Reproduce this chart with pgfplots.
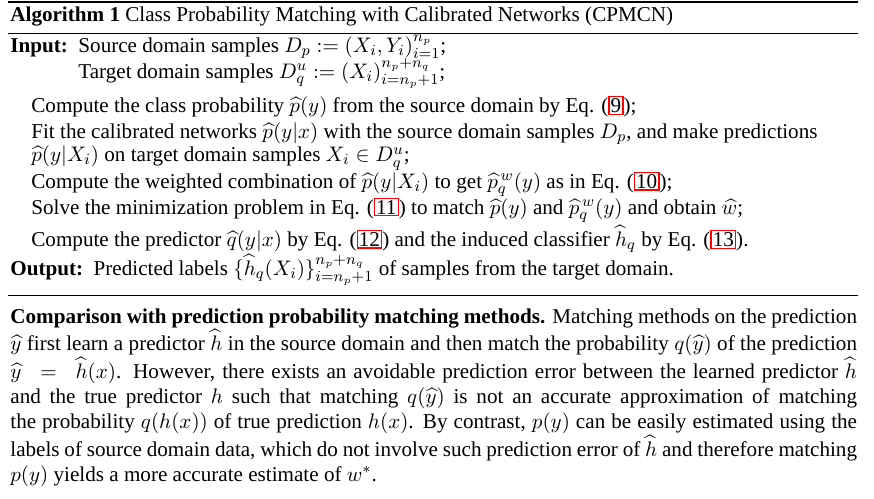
\documentclass[border=0pt]{standalone}
\usepackage{pgfplots}
\pgfplotsset{compat=1.18}
\usepackage{amsmath,amssymb}
\usepackage{fontspec}
\setmainfont{Liberation Serif}
\newcommand{\rb}[1]{{\setlength\fboxsep{0.6pt}\setlength\fboxrule{0.6pt}\fcolorbox{red}{white}{#1}}}
\begin{document}
\begin{tikzpicture}
\begin{axis}[width=16cm,height=9.118cm,scale only axis,hide axis,xmin=0,xmax=874,ymin=0,ymax=498,clip=false]
\addplot[draw=none] coordinates {(0,0) (874,498)};
\draw[line width=0.8pt] (axis cs:8,496) -- (axis cs:858,496);
\draw[line width=0.5pt] (axis cs:8,465) -- (axis cs:858,465);
\draw[line width=0.5pt] (axis cs:8,203) -- (axis cs:858,203);
\node[anchor=west,inner sep=0,font=\fontsize{11}{13}\selectfont] at (axis cs:10,481) {\textbf{Algorithm 1} Class Probability Matching with Calibrated Networks (CPMCN)};
\begin{scope}[every node/.style={anchor=west,inner sep=0,font=\fontsize{11}{13}\selectfont}]
\node at (axis cs:10,451) {\textbf{Input:}\ \ Source domain samples $D_p := (X_i,Y_i)_{i=1}^{n_p}$;};
\node at (axis cs:78,425) {Target domain samples $D_q^u := (X_i)_{i=n_p+1}^{n_p+n_q}$;};
\node at (axis cs:31,391) {Compute the class probability $\widehat{p}(y)$ from the source domain by Eq. (\rb{9});};
\node at (axis cs:31,364) {Fit the calibrated networks $\widehat{p}(y|x)$ with the source domain samples $D_p$, and make predictions};
\node at (axis cs:31,340) {$\widehat{p}(y|X_i)$ on target domain samples $X_i\in D_q^u$;};
\node at (axis cs:31,314) {Compute the weighted combination of $\widehat{p}(y|X_i)$ to get $\widehat{p}_q^{\,w}(y)$ as in Eq. (\rb{10});};
\node at (axis cs:31,288) {Solve the minimization problem in Eq. (\rb{11}) to match $\widehat{p}(y)$ and $\widehat{p}_q^{\,w}(y)$ and obtain $\widehat{w}$;};
\node at (axis cs:31,259) {Compute the predictor $\widehat{q}(y|x)$ by Eq. (\rb{12}) and the induced classifier $\widehat{h}_q$ by Eq. (\rb{13}).};
\node at (axis cs:10,228) {\textbf{Output:}\ \ Predicted labels $\{\widehat{h}_q(X_i)\}_{i=n_p+1}^{n_p+n_q}$ of samples from the target domain.};
\node[anchor=north west,text width=15.5cm,align=justify] at (axis cs:10,190) {\setlength{\baselineskip}{12.7pt}\textbf{Comparison with prediction probability matching methods.} Matching methods on the prediction $\widehat{y}$ first learn a predictor $\widehat{h}$ in the source domain and then match the probability $q(\widehat{y})$ of the prediction\linebreak $\widehat{y}\;=\;\widehat{h}(x)$. However, there exists an avoidable prediction error between the learned predictor $\widehat{h}$\linebreak and the true predictor $h$ such that matching $q(\widehat{y})$ is not an accurate approximation of matching\linebreak the probability $q(h(x))$ of true prediction $h(x)$. By contrast, $p(y)$ can be easily estimated using the\linebreak labels of source domain data, which do not involve such prediction error of $\widehat{h}$ and therefore matching\linebreak $p(y)$ yields a more accurate estimate of $w^*$.};
\end{scope}
\end{axis}
\end{tikzpicture}
\end{document}
